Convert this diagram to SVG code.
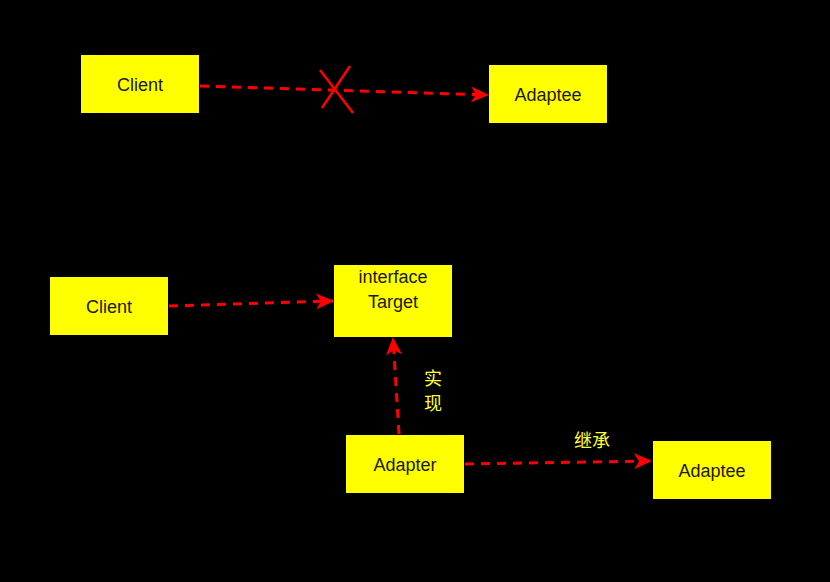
<svg xmlns="http://www.w3.org/2000/svg" width="830" height="582" viewBox="0 0 830 582">
<style>
.box{fill:#ffff00;stroke:none}
.t{font-family:"Liberation Sans",Arial,sans-serif;font-size:18px;fill:#1a1a1a;text-anchor:middle}
.e{stroke:#ff0000;stroke-width:3;stroke-dasharray:9 7;fill:none}
.lbl{font-family:"Noto Sans CJK SC",sans-serif;font-size:18px;fill:#ffff33;text-anchor:middle}
</style>
<defs>
<marker id="arr" markerWidth="20" markerHeight="18" refX="17" refY="9" orient="auto" markerUnits="userSpaceOnUse">
<path d="M0,1 L18,9 L0,17 L5,9 Z" fill="#ff0000"/>
</marker>
</defs>
<rect x="0" y="0" width="830" height="582" fill="#000"/>
<g id="client1"><rect class="box" x="81" y="55" width="118" height="58"/><text class="t" x="140" y="91">Client</text></g>
<g id="adaptee1"><rect class="box" x="489" y="65" width="118" height="58"/><text class="t" x="548" y="101">Adaptee</text></g>
<g id="client2"><rect class="box" x="50" y="277" width="118" height="58"/><text class="t" x="109" y="313">Client</text></g>
<g id="target"><rect class="box" x="334" y="265" width="118" height="72"/><text class="t" x="393" y="283">interface</text><text class="t" x="393" y="308">Target</text></g>
<g id="adapter"><rect class="box" x="346" y="435" width="118" height="58"/><text class="t" x="405" y="471">Adapter</text></g>
<g id="adaptee2"><rect class="box" x="653" y="441" width="118" height="58"/><text class="t" x="712" y="477">Adaptee</text></g>
<g id="connectors">
<path class="e" d="M200,86 L488,95" marker-end="url(#arr)"/>
<path d="M320,70 L353,113 M350,66 L322,108" stroke="#ff0000" stroke-width="2.5" fill="none"/>
<path class="e" d="M169,306 L333,301" marker-end="url(#arr)"/>
<path class="e" d="M399,434 L393,338" marker-end="url(#arr)"/>
<path class="e" d="M465,464 L651,461" marker-end="url(#arr)"/>
<text class="lbl" x="433" y="385">实</text>
<text class="lbl" x="433" y="410">现</text>
<text class="lbl" x="592" y="447">继承</text>
</g>
</svg>
